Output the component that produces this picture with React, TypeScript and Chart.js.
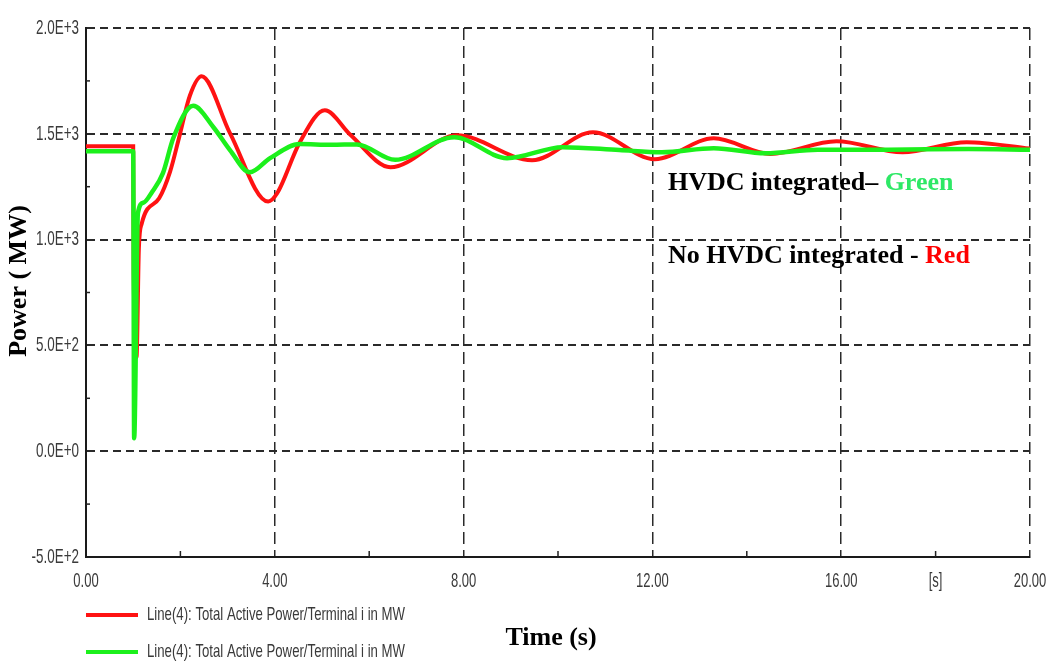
import React, { useEffect, useRef } from "react";
import { Chart, registerables } from "chart.js";

Chart.register(...registerables);

// ---- data ----
const redTime = [0, 1.0, 1.01, 1.07, 1.12, 1.18, 1.55, 1.78, 1.97, 2.2, 2.45, 3.05, 3.86, 4.05, 4.53, 5.06, 5.6, 6.45, 7.86, 9.45, 10.74, 12.05, 13.3, 14.5, 15.9, 17.3, 18.66, 20.0];
const redPower = [1441, 1441, 850, 444, 960, 1075, 1195, 1320, 1480, 1680, 1772, 1503, 1180, 1219, 1460, 1611, 1495, 1342, 1493, 1375, 1507, 1380, 1479, 1405, 1465, 1413, 1460, 1430];

const greenTime = [0, 1.0, 1.02, 1.1, 1.22, 1.4, 1.63, 1.85, 2.27, 2.7, 3.05, 3.47, 3.9, 4.53, 5.2, 5.74, 6.55, 7.8, 8.92, 10.1, 11.3, 12.2, 13.3, 14.4, 15.5, 17.0, 18.7, 20.0];
const greenPower = [1418, 1418, 61, 1125, 1175, 1225, 1314, 1480, 1632, 1531, 1423, 1318, 1385, 1452, 1448, 1450, 1377, 1484, 1385, 1437, 1423, 1413, 1432, 1408, 1425, 1425, 1428, 1425];

const yTickLabels = ["-5.0E+2", "0.0E+0", "5.0E+2", "1.0E+3", "1.5E+3", "2.0E+3"];
const xTickLabels = ["0.00", "", "4.00", "", "8.00", "", "12.00", "", "16.00", "[s]", "20.00"];
const xMinorTicks = [2, 6, 10, 14, 18];
const yMinorTicks = [-250, 250, 750, 1250, 1750];

const seriesNames = [
  "Line(4): Total Active Power/Terminal i in MW",
  "Line(4): Total Active Power/Terminal i in MW",
];
const seriesColors = ["#ff1212", "#1cf01c"];
const xTitle = "Time (s)";
const yTitle = "Power ( MW)";
const noteGreen = ["HVDC integrated\u2013 ", "Green"];
const noteRed = ["No HVDC integrated - ", "Red"];
const noteColors = ["#2ee866", "#ff0000"];

const SANS = "'Liberation Sans', Arial, sans-serif";
const SERIF = "'Liberation Serif', 'Times New Roman', serif";

function narrowText(ctx: any, text: string, x: number, y: number, align: string, sx: number) {
  ctx.save();
  ctx.translate(x, y);
  ctx.scale(sx, 1);
  ctx.textAlign = align;
  ctx.textBaseline = "middle";
  ctx.fillText(text, 0, 0);
  ctx.restore();
}

const overlayPlugin = {
  id: "overlay",
  afterDraw(chart: any) {
    const { ctx, chartArea: a, scales } = chart;
    const xs = scales.x;
    const ys = scales.y;
    ctx.save();

    // tick labels (narrow, tall font as in the reference)
    ctx.fillStyle = "#3a3a3a";
    ctx.font = "21px " + SANS;
    xs.ticks.forEach((t: any, i: number) => {
      const label = xTickLabels[i];
      if (!label) return;
      narrowText(ctx, label, xs.getPixelForValue(t.value), a.bottom + 24, "center", 0.62);
    });
    ys.ticks.forEach((t: any, i: number) => {
      const label = yTickLabels[i];
      if (!label) return;
      narrowText(ctx, label, a.left - 7, ys.getPixelForValue(t.value), "right", 0.64);
    });

    // minor tick marks inside the plot
    ctx.strokeStyle = "#222";
    ctx.lineWidth = 1.5;
    ctx.setLineDash([]);
    for (const v of xMinorTicks) {
      const px = xs.getPixelForValue(v);
      ctx.beginPath();
      ctx.moveTo(px, a.bottom);
      ctx.lineTo(px, a.bottom - 6);
      ctx.stroke();
    }
    for (const v of yMinorTicks) {
      const py = ys.getPixelForValue(v);
      ctx.beginPath();
      ctx.moveTo(a.left, py);
      ctx.lineTo(a.left + 4, py);
      ctx.stroke();
    }

    // legend
    const legendY = [615, 652];
    seriesNames.forEach((name, i) => {
      ctx.strokeStyle = seriesColors[i];
      ctx.lineWidth = 4;
      ctx.beginPath();
      ctx.moveTo(a.left, legendY[i]);
      ctx.lineTo(a.left + 52, legendY[i]);
      ctx.stroke();
      ctx.font = "19px " + SANS;
      const w = ctx.measureText(name).width;
      ctx.fillStyle = "#3a3a3a";
      narrowText(ctx, name, a.left + 61, legendY[i], "left", 258 / w);
    });

    // annotations
    ctx.font = "bold 26px " + SERIF;
    ctx.textBaseline = "alphabetic";
    ctx.textAlign = "left";
    const notes = [noteGreen, noteRed];
    const noteY = [190, 263];
    notes.forEach((n, i) => {
      ctx.fillStyle = "#000";
      ctx.fillText(n[0], 668, noteY[i]);
      const w0 = ctx.measureText(n[0]).width;
      ctx.fillStyle = noteColors[i];
      ctx.fillText(n[1], 668 + w0, noteY[i]);
    });

    // axis titles
    ctx.fillStyle = "#000";
    ctx.textAlign = "center";
    ctx.textBaseline = "middle";
    ctx.fillText(xTitle, 551, 638);
    ctx.save();
    ctx.translate(19, 281);
    ctx.rotate(-Math.PI / 2);
    ctx.fillText(yTitle, 0, 0);
    ctx.restore();

    ctx.restore();
  },
};

export default function App() {
  const ref = useRef<HTMLCanvasElement | null>(null);

  useEffect(() => {
    if (!ref.current) return;
    const chart = new Chart(ref.current, {
      type: "line",
      data: {
        datasets: [
          {
            label: seriesNames[1],
            data: greenTime.map((t, i) => ({ x: t, y: greenPower[i] })),
            borderColor: seriesColors[1],
            borderWidth: 4.5,
            pointRadius: 0,
            cubicInterpolationMode: "monotone",
            order: 0,
          },
          {
            label: seriesNames[0],
            data: redTime.map((t, i) => ({ x: t, y: redPower[i] })),
            borderColor: seriesColors[0],
            borderWidth: 4,
            pointRadius: 0,
            cubicInterpolationMode: "monotone",
            order: 1,
          },
        ],
      },
      options: {
        responsive: false,
        animation: false,
        devicePixelRatio: 1,
        layout: { padding: { top: 28, right: 22, left: 0, bottom: 0 } },
        plugins: {
          legend: { display: false },
          tooltip: { enabled: false },
        },
        scales: {
          x: {
            type: "linear",
            min: 0,
            max: 20,
            afterFit: (s: any) => {
              s.height = 109;
            },
            ticks: {
              display: false,
              stepSize: 2,
              autoSkip: false,
              maxRotation: 0,
              callback: (_v: any, i: number) => xTickLabels[i],
            },
            grid: {
              drawTicks: false,
              lineWidth: 1.5,
              color: (c: any) =>
                c.tick && c.tick.value % 4 === 0 && c.tick.value > 0 ? "#2a2a2a" : "rgba(0,0,0,0)",
            },
            border: { display: true, color: "#1a1a1a", width: 2, dash: [12, 6] },
          },
          y: {
            type: "linear",
            min: -500,
            max: 2000,
            afterFit: (s: any) => {
              s.width = 86;
            },
            ticks: {
              display: false,
              stepSize: 500,
              callback: (_v: any, i: number) => yTickLabels[i],
            },
            grid: {
              drawTicks: false,
              lineWidth: 2,
              color: (c: any) => (c.tick && c.tick.value > -500 ? "#2a2a2a" : "rgba(0,0,0,0)"),
            },
            border: { display: true, color: "#1a1a1a", width: 2, dash: [8, 5] },
          },
        },
      },
      plugins: [overlayPlugin],
    });
    return () => chart.destroy();
  }, []);

  return (
    <div style={{ position: "absolute", left: 0, top: 0, width: 1052, height: 666, background: "#fff" }}>
      <canvas ref={ref} width={1052} height={666} />
    </div>
  );
}
